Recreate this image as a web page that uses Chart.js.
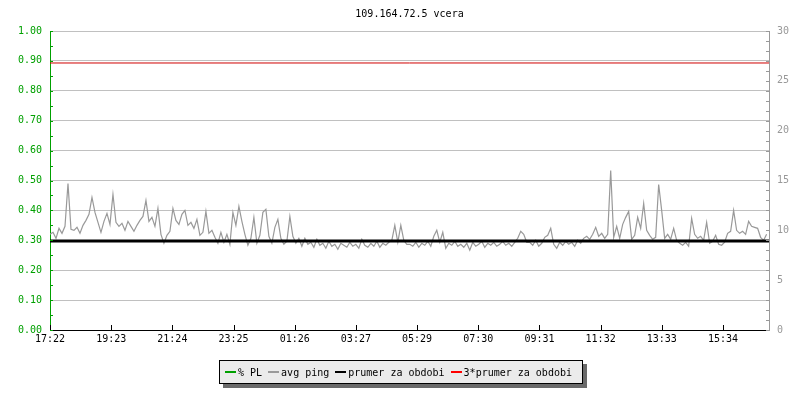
<!DOCTYPE html>
<html>
<head>
<meta charset="utf-8">
<script src="https://cdn.jsdelivr.net/npm/chart.js@4/dist/chart.umd.min.js"></script>
<style>
  body { margin: 0; background: #fff; }
  #wrap { position: relative; width: 800px; height: 400px; }
  #legend {
    position: absolute; left: 219px; top: 360px; width: 364px; height: 24px;
    box-sizing: border-box; border: 1px solid #000; background: #ebebeb;
    box-shadow: 4px 4px 0 #6a6a6a;
    display: flex; align-items: center; padding-left: 5px;
    font: 10px "DejaVu Sans Mono", monospace; color: #000; white-space: nowrap;
  }
  #legend .dash { display: inline-block; width: 11px; height: 2px; margin-right: 2px; }
  #legend .item { display: flex; align-items: center; margin-right: 6px; }
</style>
</head>
<body>
<div id="wrap">
  <canvas id="chart" width="800" height="400"></canvas>
  <div id="legend"></div>
</div>
<script>
const TITLE = '109.164.72.5 vcera';
const TIME_LABELS = ['17:22','19:23','21:24','23:25','01:26','03:27','05:29','07:30','09:31','11:32','13:33','15:34'];
const TICK_STEP_MIN = 121;   // minutes between time labels
const SAMPLE_MIN = 5.93;     // minutes between samples
const X_MAX = 1422;

// avg ping [ms], right axis
const AVG_PING = [
  9.6, 9.8, 9.2, 10.2, 9.7, 10.4, 14.7, 10.1, 10.0, 10.3,
  9.7, 10.5, 11.0, 11.6, 13.3, 11.8, 10.8, 9.8, 10.9, 11.7,
  10.6, 13.6, 10.8, 10.4, 10.7, 10.0, 10.9, 10.4, 9.9, 10.5,
  11.0, 11.4, 13.0, 10.9, 11.3, 10.4, 12.2, 9.6, 8.7, 9.5,
  9.9, 12.2, 11.0, 10.6, 11.6, 12.0, 10.5, 10.8, 10.2, 11.1,
  9.5, 9.8, 11.9, 9.7, 10.0, 9.3, 8.7, 9.8, 8.8, 9.6,
  8.6, 11.8, 10.5, 12.4, 10.9, 9.6, 8.5, 9.2, 11.3, 8.7,
  9.5, 11.8, 12.1, 9.4, 8.7, 10.3, 11.1, 9.2, 8.6, 8.9,
  11.4, 9.4, 8.7, 9.2, 8.4, 9.2, 8.6, 8.8, 8.3, 9.1,
  8.5, 8.7, 8.2, 8.9, 8.4, 8.6, 8.1, 8.7, 8.5, 8.3,
  8.8, 8.4, 8.6, 8.2, 9.1, 8.5, 8.3, 8.7, 8.4, 8.9,
  8.3, 8.7, 8.5, 8.8, 9.0, 10.5, 8.8, 10.5, 9.0, 8.6,
  8.6, 8.4, 8.8, 8.3, 8.7, 8.5, 8.9, 8.4, 9.4, 10.0,
  8.8, 9.8, 8.2, 8.7, 8.5, 8.9, 8.4, 8.6, 8.3, 8.7,
  8.0, 8.8, 8.4, 8.6, 8.9, 8.3, 8.7, 8.5, 8.8, 8.4,
  8.6, 8.9, 8.5, 8.7, 8.4, 8.8, 9.2, 9.9, 9.6, 8.8,
  8.8, 8.5, 9.0, 8.4, 8.7, 9.3, 9.5, 10.2, 8.6, 8.2,
  8.8, 8.5, 8.9, 8.6, 8.8, 8.4, 9.0, 8.7, 9.2, 9.4,
  9.1, 9.6, 10.3, 9.4, 9.7, 9.2, 9.6, 16.0, 9.3, 10.4,
  9.2, 10.6, 11.3, 11.9, 9.1, 9.5, 11.3, 10.2, 12.7, 10.0,
  9.5, 9.1, 9.3, 14.6, 12.0, 9.2, 9.6, 9.1, 10.2, 9.0,
  8.7, 8.5, 8.8, 8.4, 11.2, 9.6, 9.2, 9.4, 9.0, 10.8,
  8.7, 8.9, 9.5, 8.6, 8.5, 8.8, 9.7, 9.9, 12.0, 10.0,
  9.7, 9.9, 9.6, 10.9, 10.4, 10.3, 10.2, 9.3, 9.0, 9.6
];
const PL_PCT = [];           // no packet loss in the period
const PRUMER = 8.93;         // average ping for the period [ms]

const LEGEND = [
  { label: '% PL', color: '#00a000' },
  { label: 'avg ping', color: '#9a9a9a' },
  { label: 'prumer za obdobi', color: '#000000' },
  { label: '3*prumer za obdobi', color: '#ff0000' }
];

const FONT = { family: '"DejaVu Sans Mono", monospace', size: 10 };

// title + small tick marks drawn inside the plot
const decor = {
  id: 'decor',
  afterDraw(chart) {
    const { ctx, chartArea: a, scales } = chart;
    ctx.save();
    ctx.font = '10px "DejaVu Sans Mono", monospace';
    ctx.fillStyle = '#000';
    ctx.textAlign = 'center';
    ctx.textBaseline = 'middle';
    ctx.fillText(TITLE, (a.left + a.right) / 2, 14);

    ctx.lineWidth = 1;
    ctx.strokeStyle = '#00a000';
    for (let k = 0; k <= 20; k++) {
      const y = Math.round(scales.y.getPixelForValue(k * 0.05)) + 0.5;
      ctx.beginPath(); ctx.moveTo(a.left, y); ctx.lineTo(a.left + 3, y); ctx.stroke();
    }
    ctx.strokeStyle = '#999';
    for (let k = 0; k <= 30; k++) {
      const y = Math.round(scales.y1.getPixelForValue(k)) + 0.5;
      ctx.beginPath(); ctx.moveTo(a.right - 3, y); ctx.lineTo(a.right, y); ctx.stroke();
    }
    ctx.strokeStyle = '#000';
    TIME_LABELS.forEach((l, k) => {
      const x = Math.round(scales.x.getPixelForValue(k * TICK_STEP_MIN)) + 0.5;
      ctx.beginPath(); ctx.moveTo(x, a.bottom); ctx.lineTo(x, a.bottom - 5); ctx.stroke();
    });
    ctx.restore();
  }
};

const pingPts = AVG_PING.map((v, i) => ({ x: i * SAMPLE_MIN, y: v }));

new Chart(document.getElementById('chart'), {
  type: 'line',
  data: {
    datasets: [
      { label: '% PL', data: PL_PCT, yAxisID: 'y', borderColor: '#00a000', borderWidth: 1, pointRadius: 0, order: 0 },
      { label: 'prumer za obdobi', data: [{ x: 0, y: PRUMER }, { x: X_MAX, y: PRUMER }], yAxisID: 'y1',
        borderColor: '#000', borderWidth: 3, pointRadius: 0, order: 1 },
      { label: '3*prumer za obdobi', data: [{ x: 0, y: 3 * PRUMER }, { x: X_MAX, y: 3 * PRUMER }], yAxisID: 'y1',
        borderColor: '#d00000', borderWidth: 1, pointRadius: 0, order: 2 },
      { label: 'avg ping', data: pingPts, yAxisID: 'y1', borderColor: '#999999', borderWidth: 1.2,
        pointRadius: 0, tension: 0, order: 3 }
    ]
  },
  options: {
    responsive: false,
    animation: false,
    layout: { padding: { top: 31, left: 0, right: 0, bottom: 0 } },
    plugins: { legend: { display: false }, tooltip: { enabled: false }, title: { display: false } },
    scales: {
      x: {
        type: 'linear', min: 0, max: X_MAX, position: 'bottom',
        afterBuildTicks: s => { s.ticks = TIME_LABELS.map((l, k) => ({ value: k * TICK_STEP_MIN })); },
        afterFit: s => { s.height = 70; },
        ticks: { callback: (v, i) => TIME_LABELS[i], color: '#000', font: FONT, padding: 3, maxRotation: 0, autoSkip: false },
        grid: { display: false, drawTicks: false },
        border: { color: '#000', width: 1 }
      },
      y: {
        position: 'left', min: 0, max: 1,
        afterFit: s => { s.width = 50; },
        ticks: { stepSize: 0.1, callback: v => v.toFixed(2), color: '#00a000', font: FONT, padding: 8 },
        grid: { color: '#c0c0c0', drawTicks: false },
        border: { color: '#00a000', width: 1 }
      },
      y1: {
        position: 'right', min: 0, max: 30,
        afterFit: s => { s.width = 31; },
        ticks: { stepSize: 5, color: '#999', font: FONT, padding: 8 },
        grid: { drawOnChartArea: false, drawTicks: false },
        border: { color: '#999', width: 1 }
      }
    }
  },
  plugins: [decor]
});

document.getElementById('legend').innerHTML = LEGEND.map(it =>
  '<span class="item"><span class="dash" style="background:' + it.color + '"></span>' + it.label + '</span>'
).join('');
</script>
</body>
</html>
